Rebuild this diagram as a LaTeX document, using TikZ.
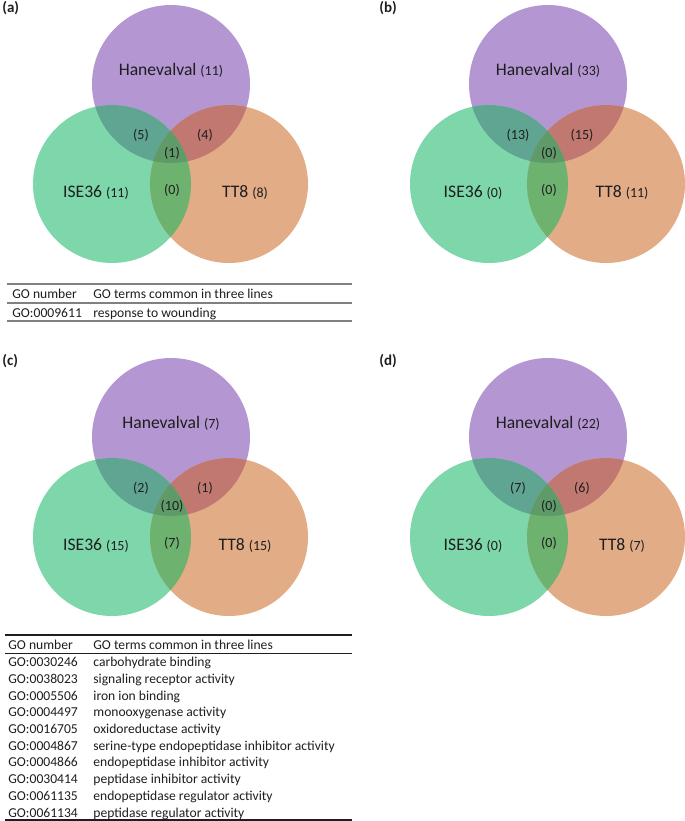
\documentclass[tikz,border=0pt]{standalone}
\usepackage{fontspec}
\setmainfont{Carlito}

\definecolor{hanecol}{HTML}{B496D2}
\definecolor{isecol}{HTML}{7DD7AA}
\definecolor{ttcol}{HTML}{E2AC87}
\definecolor{hicol}{HTML}{5FA591}
\definecolor{htcol}{HTML}{C07870}
\definecolor{itcol}{HTML}{6EB270}
\definecolor{allcol}{HTML}{5F9B69}
\definecolor{inkcol}{HTML}{1E1E1E}

\begin{document}
\begin{tikzpicture}[
    x=0.5pt, y=-0.5pt,
    setname/.style={inner sep=0pt, anchor=base, text=inkcol,
        font=\fontsize{8.8}{10}\selectfont},
    count/.style={inner sep=0pt, anchor=base, text=inkcol,
        font=\fontsize{7}{8}\selectfont},
    tag/.style={inner sep=0pt, anchor=base west, text=inkcol,
        font=\fontsize{7.5}{9}\selectfont\bfseries},
    cell/.style={inner sep=0pt, anchor=base west, text=inkcol,
        font=\fontsize{6.8}{8}\selectfont},
    rule/.style={line width=0.6pt}
]
\useasboundingbox (0,0) rectangle (685,821);

% four Venn panels
\foreach \dx/\dy/\tg/\nh/\ni/\nt/\nhi/\nht/\nit/\nall in {
    0/0/a/11/11/8/5/4/0/1,
    377/0/b/33/0/11/13/15/0/0,
    0/353/c/7/15/15/2/1/7/10,
    377/353/d/22/0/7/7/6/0/0}{
  \begin{scope}[shift={(\dx,\dy)}]
    \fill[hanecol] (171,84) circle (79);
    \fill[isecol] (112,184) circle (79);
    \fill[ttcol] (229,184) circle (79);
    \begin{scope}
      \clip (171,84) circle (79);
      \fill[hicol] (112,184) circle (79);
    \end{scope}
    \begin{scope}
      \clip (171,84) circle (79);
      \fill[htcol] (229,184) circle (79);
    \end{scope}
    \begin{scope}
      \clip (112,184) circle (79);
      \fill[itcol] (229,184) circle (79);
    \end{scope}
    \begin{scope}
      \clip (171,84) circle (79);
      \clip (112,184) circle (79);
      \fill[allcol] (229,184) circle (79);
    \end{scope}
    \node[tag] (tag-\tg) at (2,12) {(\tg)};
    \node[setname] (hane-\tg) at (171,75.6)
        {Hanevalval~{\fontsize{7}{8}\selectfont(\nh)}};
    \node[setname] (ise-\tg) at (96,197.6)
        {ISE36~{\fontsize{7}{8}\selectfont(\ni)}};
    \node[setname] (tt-\tg) at (245,197.6)
        {TT8~{\fontsize{7}{8}\selectfont(\nt)}};
    \node[count] (hi-\tg) at (141,139) {(\nhi)};
    \node[count] (ht-\tg) at (205,139) {(\nht)};
    \node[count] (all-\tg) at (172,157) {(\nall)};
    \node[count] (it-\tg) at (172,194) {(\nit)};
  \end{scope}
}

% GO table under (a)
\draw[rule, gray] (7,284) -- (352,284);
\draw[rule, gray] (7,303) -- (352,303);
\draw[rule, gray] (7,321) -- (352,321);
\node[cell] (gohead-a) at (12,298) {GO number};
\node[cell] (termhead-a) at (93,298) {GO terms common in three lines};
\node[cell] (gonum-a) at (12,317) {GO:0009611};
\node[cell] (term-a) at (93,317) {response to wounding};

% GO table under (c)
\draw[rule, inkcol] (5,635) -- (352,635);
\draw[line width=0.45pt, inkcol] (5,653.3) -- (352,653.3);
\draw[rule, inkcol] (5,820) -- (352,820);
\node[cell] (gohead-c) at (8,649) {GO number};
\node[cell] (termhead-c) at (93,649) {GO terms common in three lines};
\foreach \gonum/\goterm [count=\k] in {
    GO:0030246/carbohydrate binding,
    GO:0038023/signaling receptor activity,
    GO:0005506/iron ion binding,
    GO:0004497/monooxygenase activity,
    GO:0016705/oxidoreductase activity,
    GO:0004867/serine-type endopeptidase inhibitor activity,
    GO:0004866/endopeptidase inhibitor activity,
    GO:0030414/peptidase inhibitor activity,
    GO:0061135/endopeptidase regulator activity,
    GO:0061134/peptidase regulator activity}{
  \node[cell] (gonum-c\k) at (8,{666.7+16.7*(\k-1)}) {\gonum};
  \node[cell] (term-c\k) at (93,{666.7+16.7*(\k-1)}) {\goterm};
}
\end{tikzpicture}
\end{document}
